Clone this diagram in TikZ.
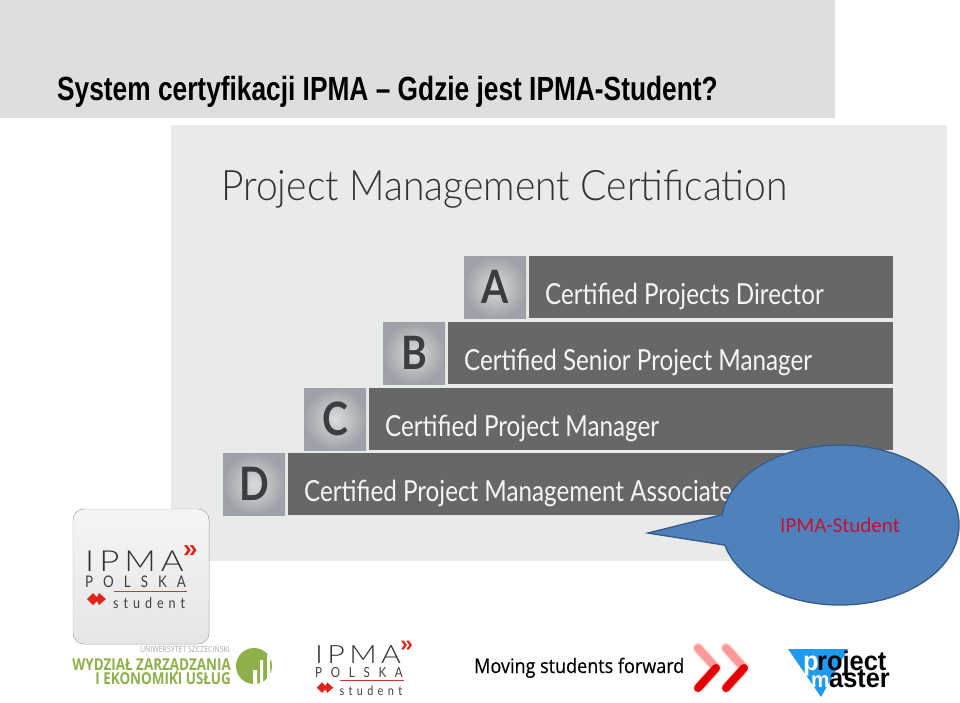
\documentclass[tikz,border=0pt]{standalone}
\usepackage{fontspec}
\usepackage{tikz}
\usetikzlibrary{positioning,shapes.callouts}
\setmainfont{Liberation Sans}
\newfontfamily\panelfont[FakeStretch=0.93]{Lato Light}
\newfontfamily\barfont[FakeStretch=0.835]{Lato}
\newfontfamily\badgefont[FakeStretch=0.85]{Lato}
\newfontfamily\logofont[FakeStretch=1.2]{Lato Light}
\newfontfamily\headfont[FakeStretch=0.785]{Liberation Sans}
\newfontfamily\callfont{Carlito}
\newfontfamily\wydzfont[FakeStretch=0.82]{Open Sans}
\newfontfamily\movingfont[FakeStretch=0.9,FakeBold=0.3]{Open Sans}
\newfontfamily\masterfont[FakeStretch=0.94]{Liberation Sans}
\definecolor{headgrey}{HTML}{DEDEDE}
\definecolor{panelgrey}{HTML}{E9EBEA}
\definecolor{bargrey}{HTML}{666868}
\definecolor{badgeink}{HTML}{3A3D42}
\definecolor{badgelight}{HTML}{DADCDE}
\definecolor{badgedark}{HTML}{9EA1A7}
\definecolor{calloutblue}{HTML}{4F81BD}
\definecolor{calloutedge}{HTML}{385D8A}
\definecolor{calloutred}{HTML}{C8102E}
\definecolor{wydzgreen}{HTML}{8DB04A}
\definecolor{logored}{HTML}{E2231A}
\definecolor{masterblue}{HTML}{1E9AF0}
\tikzset{
    barbox/.style={fill=bargrey,minimum height=62pt,inner sep=0pt,anchor=north east},
    badge/.style={inner color=badgelight,outer color=badgedark,minimum width=62pt,
        minimum height=62pt,inner sep=0pt,anchor=north west,text=badgeink,
        font=\badgefont\bfseries\fontsize{46}{46}\selectfont},
    bartext/.style={text=white!92!gray,inner sep=0pt,anchor=base west,font=\barfont\fontsize{29}{29}\selectfont},
    ipma logo/.pic={
        \node[inner sep=0pt,anchor=base west,transform shape,text=black!80,font=\logofont\fontsize{29}{29}\selectfont] (ipma) at (0,21) {I\hspace{5pt}P\hspace{5pt}M\hspace{5pt}A};
        \node[inner sep=0pt,anchor=base west,transform shape,text=logored,font=\bfseries\fontsize{26}{26}\selectfont] (arrows) at (98,7) {»};
        \node[inner sep=0pt,anchor=base west,transform shape,text=black!75,font=\barfont\fontsize{16}{16}\selectfont] (polska) at (0,37) {P\hspace{10pt}O\hspace{10pt}L\hspace{10pt}S\hspace{10pt}K\hspace{10pt}A};
        \draw[logored!80!gray,line width=.8pt] (29,41) -- (102,41);
        \fill[logored] (2,49) -- (8,43) -- (14,49) -- (8,55) -- cycle (14,43) -- (21,49) -- (14,55) -- (11,49) -- cycle;
        \node[inner sep=0pt,anchor=base west,transform shape,text=black!75,font=\barfont\fontsize{15}{15}\selectfont] (student) at (28,58) {s\hspace{5pt}t\hspace{5pt}u\hspace{5pt}d\hspace{5pt}e\hspace{5pt}n\hspace{5pt}t};
    }
}
\begin{document}
\begin{tikzpicture}[x=1pt,y=-1pt]
    \useasboundingbox (0,0) rectangle (960,702);
    \fill[headgrey] (0,0) rectangle (835,118);
    \node[inner sep=0pt,anchor=base west,font=\headfont\bfseries\fontsize{33.5}{33.5}\selectfont] (title) at (57,100) {System certyfikacji IPMA – Gdzie jest IPMA-Student?};
    \fill[panelgrey] (171,125) rectangle (947,561);
    \node[inner sep=0pt,anchor=base west,text=black!80,font=\panelfont\fontsize{42}{42}\selectfont] (panel) at (221,200) {Project Management Certification};
    \foreach \rowname/\rowtext/\rowx/\rowy in {A/Certified Projects Director/464/256,
        B/Certified Senior Project Manager/383/322,
        C/Certified Project Manager/304/388,
        D/Certified Project Management Associate/223/453} {
        \node[badge] (\rowname) at (\rowx,\rowy) {\rowname};
        \node[barbox,minimum width=893-\rowx-65] (bar\rowname) at (893,\rowy) {};
        \node[bartext] (text\rowname) at (\rowx+81,\rowy+48) {\rowtext};
    }
    \node[ellipse callout,draw=calloutedge,line width=1.4pt,fill=calloutblue,text=calloutred,
        minimum width=238pt,minimum height=160pt,inner sep=0pt,
        callout absolute pointer={(648,533)},callout pointer arc=22,
        font=\callfont\fontsize{21}{21}\selectfont] (callout) at (840,525) {IPMA-Student};
    \filldraw[draw=black!30,top color=white!92!gray,bottom color=white!80!gray,rounded corners=11pt] (73,509) rectangle (209,644);
    \pic at (85,550) {ipma logo};
    \pic[scale=.87] at (315,645) {ipma logo};
    \node[inner sep=0pt,anchor=base east,text=gray!70,font=\wydzfont\fontsize{8.5}{8.5}\selectfont] (usz) at (230,652) {UNIWERSYTET SZCZECIŃSKI};
    \node[inner sep=0pt,anchor=base east,text=wydzgreen,font=\wydzfont\bfseries\fontsize{16.4}{16.4}\selectfont] (wydz) at (231,670) {WYDZIAŁ ZARZĄDZANIA};
    \node[inner sep=0pt,anchor=base east,text=wydzgreen,font=\wydzfont\bfseries\fontsize{16.4}{16.4}\selectfont] (ekon) at (231,684) {I EKONOMIKI USŁUG};
    \begin{scope}
        \clip (254,666) circle (18);
        \fill[wydzgreen] (254,666) circle (18);
        \fill[white] (253,670) rectangle (257,684) (260,660) rectangle (263,684) (267,655) rectangle (270,684);
    \end{scope}
    \node[inner sep=0pt,anchor=base west,font=\movingfont\fontsize{20}{20}\selectfont] (moving) at (474,673) {Moving students forward};
    \foreach \chevx in {698,726} {
        \draw[red!12,line width=11pt,line cap=round,line join=round] (\chevx,648) -- (\chevx+18,668) -- (\chevx,688);
        \draw[red!40!white,line width=8pt,line cap=round] (\chevx,648) -- (\chevx+18,668);
        \draw[red!90!black,line width=8pt,line cap=round] (\chevx,688) -- (\chevx+18,668);
    }
    \fill[masterblue] (788,649) -- (848,649) -- (821,697) -- cycle;
    \node[inner sep=0pt,anchor=base west,text=white,font=\masterfont\bfseries\fontsize{27}{27}\selectfont] (mp) at (803,670) {p};
    \node[inner sep=0pt,anchor=base west,font=\masterfont\bfseries\fontsize{27}{27}\selectfont] (roject) at (817,670) {roject};
    \node[inner sep=0pt,anchor=base west,text=white,font=\masterfont\bfseries\fontsize{22}{22}\selectfont] (mm) at (811,687) {m};
    \node[inner sep=0pt,anchor=base west,font=\masterfont\bfseries\fontsize{27}{27}\selectfont] (aster) at (829,687) {aster};
\end{tikzpicture}
\end{document}
